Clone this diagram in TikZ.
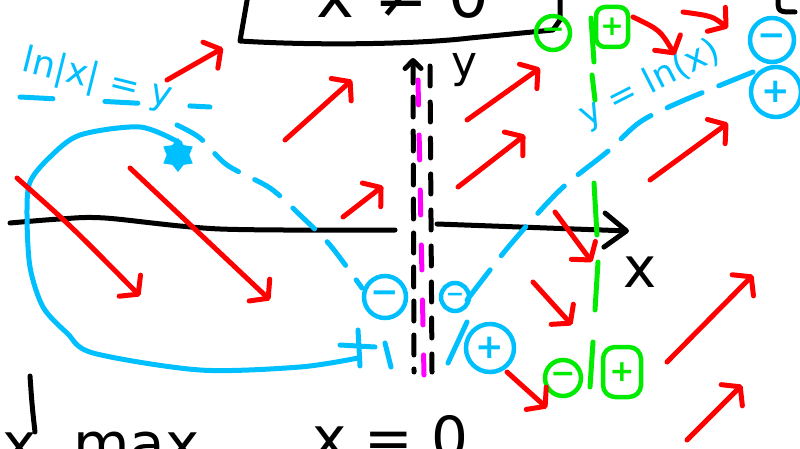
\documentclass[tikz,border=0pt]{standalone}
\usepackage{fontspec}
\setmainfont{DejaVu Sans}
\usepackage{tikz}
\usetikzlibrary{arrows.meta,shapes.geometric}
\definecolor{sky}{RGB}{0,191,255}
\definecolor{pen}{RGB}{255,0,0}
\definecolor{lime}{RGB}{0,235,0}
\definecolor{axispink}{RGB}{255,0,255}

\begin{document}
\begin{tikzpicture}[x=1pt, y=-1pt,
  ink/.style={line width=5pt, line cap=round, line join=round},
  vec/.style={ink, pen, -{Straight Barb[round, length=12pt, width=30pt]}},
  bluedash/.style={ink, sky, dash pattern=on 30pt off 18pt},
  sgn/.style={circle, draw, line width=4.5pt, inner sep=0pt, font=\bfseries\fontsize{34}{34}\selectfont},
  lbl/.style={inner sep=0pt}]
  \useasboundingbox (0,0) rectangle (800,449);
  \clip (0,0) rectangle (800,449);

  % box at the top
  \draw[ink] (248,-5) -- (240,41) .. controls (320,46) and (420,44) .. (470,38) -- (553,30) -- (560,20) -- (560,-5);
  \node[lbl, anchor=base, font=\fontsize{64}{64}\selectfont] (cond) at (403,18) {x ≠ 0};

  % axes
  \draw[ink] plot[smooth] coordinates {(10,223) (60,219) (105,218) (220,229) (395,230)};
  \draw[ink, -{Straight Barb[round, length=22pt, width=34pt]}] (437,224) -- (629,231);
  \draw[ink, dash pattern=on 20pt off 14pt, {Straight Barb[round, length=8pt, width=16pt]}-] (413,58) -- (414,372);
  \draw[ink, dash pattern=on 20pt off 16pt] (430,66) -- (432,372);
  \draw[ink, axispink, dash pattern=on 25pt off 30pt] (418,80) -- (424,375);
  \node[lbl, font=\fontsize{44}{44}\selectfont] (ylab) at (465,70) {y};
  \node[lbl, font=\fontsize{56}{56}\selectfont] (xlab) at (640,272) {x};

  % blue curves
  \draw[ink, sky] plot[smooth] coordinates {(180,143) (140,127) (80,135) (50,157) (30,182) (27,215) (30,267) (43,307) (67,333) (93,353) (200,370) (300,367) (358,358)};
  \draw[ink, sky, dash pattern=on 33pt off 52pt] (20,97) -- (210,107);
  \draw[bluedash] plot[smooth] coordinates {(177,125) (200,138) (227,165) (270,188) (300,215) (330,245) (362,288)};
  \draw[bluedash, dash pattern=on 38pt off 18pt] plot[smooth] coordinates {(467,300) (510,245) (560,190) (607,152) (640,122) (680,102) (753,72)};
  \node[star, star points=6, fill=sky, minimum size=34pt, inner sep=0pt] (pt) at (178,155) {};
  \draw[ink, sky] (358,330) -- (360,366) (340,345) -- (375,347);
  \draw[ink, sky] (385,343) -- (391,367);
  \draw[ink, sky] (467,322) -- (448,363);
  \node[lbl, sky, rotate=-14, font=\fontsize{36}{36}\selectfont] (lnl) at (97,80) {ln|x| = y};
  \node[lbl, sky, rotate=27, font=\fontsize{35}{35}\selectfont] (lnr) at (650,84) {y = ln(x)};

  % signs
  \node[sgn, sky, minimum size=42pt] (mA) at (385,297) {−};
  \node[sgn, sky, minimum size=28pt, font=\bfseries\fontsize{22}{22}\selectfont] (mB) at (455,297) {−};
  \node[sgn, sky, minimum size=48pt] (pA) at (490,348) {+};
  \node[sgn, sky, minimum size=44pt] (mC) at (772,40) {−};
  \node[sgn, sky, minimum size=50pt] (pB) at (776,92) {+};
  \node[sgn, lime, minimum size=34pt, font=\bfseries\fontsize{28}{28}\selectfont] (gmA) at (553,33) {−};
  \node[sgn, lime, rectangle, rounded corners=9pt, minimum width=32pt, minimum height=40pt, font=\bfseries\fontsize{28}{28}\selectfont] (gpA) at (612,27) {+};
  \node[sgn, lime, minimum size=36pt, font=\bfseries\fontsize{30}{30}\selectfont] (gmB) at (563,378) {−};
  \node[sgn, lime, rectangle, rounded corners=12pt, minimum width=38pt, minimum height=50pt, font=\bfseries\fontsize{30}{30}\selectfont] (gpB) at (622,372) {+};
  \draw[ink, lime] (591,18) -- (594,62) (592,75) -- (595,100) (594,183) -- (597,235)
    (598,262) -- (595,310) (593,342) -- (590,387);

  % red field
  \foreach \sx/\sy/\ex/\ey in {167/80/223/48, 285/140/352/80, 343/217/383/186, 130/168/270/300,
      458/187/525/135, 467/120/540/68, 650/180/728/123, 555/212/592/262, 533/282/572/325,
      507/372/547/408, 667/362/753/275, 687/440/742/385}
    \draw[vec] (\sx,\sy) -- (\ex,\ey);
  \draw[vec] (17,178) .. controls (70,225) .. (140,296);
  \draw[vec] (633,17) .. controls (660,30) .. (675,55);
  \draw[vec] (683,12) .. controls (712,16) .. (728,28);

  % bottom
  \draw[ink] (30,376) .. controls (32,405) .. (35,432);
  \draw[ink] (778,-2) .. controls (778,12) .. (795,12);
  \node[lbl, anchor=base west, font=\fontsize{58}{58}\selectfont] (ymax) at (2,464) {x~ max};
  \node[lbl, anchor=base west, font=\fontsize{58}{58}\selectfont] (xzero) at (312,458) {x = 0};
\end{tikzpicture}
\end{document}
